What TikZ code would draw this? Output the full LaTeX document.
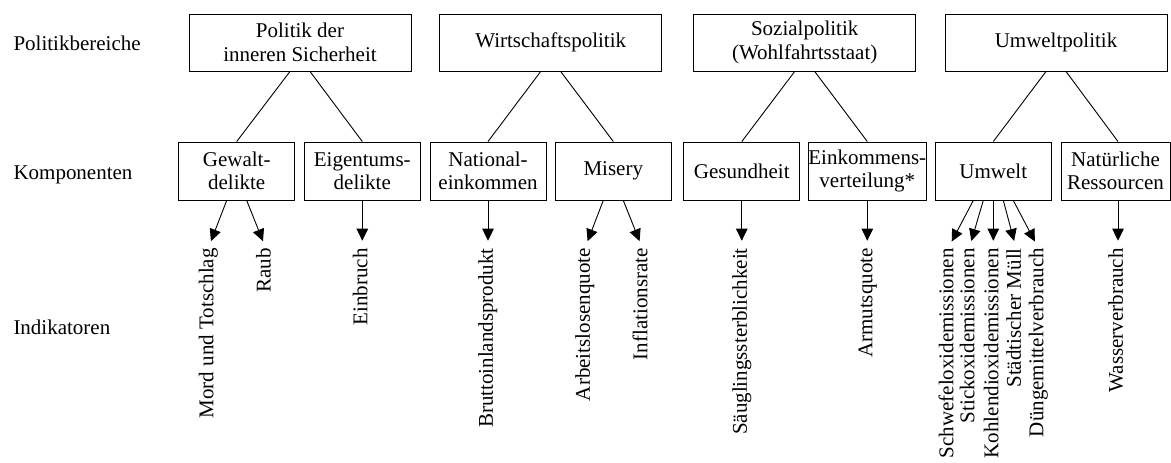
\documentclass[tikz,border=0pt]{standalone}
\usepackage{fontspec}
\setmainfont{Liberation Serif}
\usetikzlibrary{arrows.meta}
\begin{document}
\begin{tikzpicture}[x=1pt,y=1pt,
  every node/.style={font=\fontsize{21}{23.5}\selectfont},
  topbox/.style={draw,line width=0.9pt,minimum width=222pt,minimum height=57pt,align=center,inner sep=0pt},
  compbox/.style={draw,line width=0.9pt,minimum width=116pt,minimum height=58pt,align=center,inner sep=0pt},
  ind/.style={rotate=90,anchor=east,inner sep=0pt,text height=14.5pt,text depth=4.6pt},
  rowlabel/.style={anchor=base west,inner sep=0pt},
  link/.style={line width=0.9pt},
  arr/.style={line width=0.9pt,-{Triangle[length=12pt,width=11.5pt]},shorten >=7.3pt}
]
\useasboundingbox (0,0) rectangle (1171,-463);

% row labels
\node[rowlabel] (rl1) at (13.3,-50) {Politikbereiche};
\node[rowlabel] (rl2) at (13.3,-179.3) {Komponenten};
\node[rowlabel] (rl3) at (13.3,-334.3) {Indikatoren};

% top boxes
\node[topbox] (t1) at (300,-42.5) {Politik der\\inneren Sicherheit};
\node[topbox] (t2) at (550.7,-42.5) {Wirtschaftspolitik};
\node[topbox] (t3) at (804.7,-42.5) {Sozialpolitik\\(Wohlfahrtsstaat)};
\node[topbox] (t4) at (1056,-42.5) {Umweltpolitik};

% component boxes
\node[compbox] (c1) at (236.7,-171) {Gewalt-\\delikte};
\node[compbox] (c2) at (362.3,-171) {Eigentums-\\delikte};
\node[compbox] (c3) at (488,-171) {National-\\einkommen};
\node[compbox] (c4) at (613.3,-171) {Misery};
\node[compbox] (c5) at (741.8,-171) {Gesundheit};
\node[compbox] (c6) at (867.3,-171) {Einkommens-\\verteilung*};
\node[compbox] (c7) at (993.3,-171) {Umwelt};
\node[compbox,minimum width=109pt] (c8) at (1115.5,-171) {Natürliche\\Ressourcen};

% top-to-component links
\draw[link] ([xshift=-10pt]t1.south) -- (c1.north);
\draw[link] ([xshift=10pt]t1.south) -- (c2.north);
\draw[link] ([xshift=-10pt]t2.south) -- (c3.north);
\draw[link] ([xshift=10pt]t2.south) -- (c4.north);
\draw[link] ([xshift=-10pt]t3.south) -- (c5.north);
\draw[link] ([xshift=10pt]t3.south) -- (c6.north);
\draw[link] ([xshift=-10pt]t4.south) -- (c7.north);
\draw[link] ([xshift=10pt]t4.south) -- ([xshift=2.5pt]c8.north);

% indicators
\node[ind] (i1) at (208.3,-248) {Mord und Totschlag};
\node[ind] (i2) at (265.7,-248) {Raub};
\node[ind] (i3) at (362.3,-248) {Einbruch};
\node[ind] (i4) at (488,-248) {Bruttoinlandsprodukt};
\node[ind] (i5) at (585,-248) {Arbeitslosenquote};
\node[ind] (i6) at (642.3,-248) {Inflationsrate};
\node[ind] (i7) at (741.8,-248) {Säuglingssterblichkeit};
\node[ind] (i8) at (867.3,-248) {Armutsquote};
\node[ind] (i9) at (948.3,-248) {Schwefeloxidemissionen};
\node[ind] (i10) at (969.3,-248) {Stickoxidemissionen};
\node[ind] (i11) at (993.3,-248) {Kohlendioxidemissionen};
\node[ind] (i12) at (1016,-248) {Städtischer Müll};
\node[ind] (i13) at (1038.3,-248) {Düngemittelverbrauch};
\node[ind] (i14) at (1118,-248) {Wasserverbrauch};

% arrows
\draw[arr] ([xshift=-10pt]c1.south) -- (i1.east);
\draw[arr] ([xshift=10pt]c1.south) -- (i2.east);
\draw[arr] (c2.south) -- (i3.east);
\draw[arr] (c3.south) -- (i4.east);
\draw[arr] ([xshift=-10pt]c4.south) -- (i5.east);
\draw[arr] ([xshift=10pt]c4.south) -- (i6.east);
\draw[arr] (c5.south) -- (i7.east);
\draw[arr] (c6.south) -- (i8.east);
\draw[arr] ([xshift=-20pt]c7.south) -- (i9.east);
\draw[arr] ([xshift=-10pt]c7.south) -- (i10.east);
\draw[arr] (c7.south) -- (i11.east);
\draw[arr] ([xshift=10pt]c7.south) -- (i12.east);
\draw[arr] ([xshift=20pt]c7.south) -- (i13.east);
\draw[arr] ([xshift=2.5pt]c8.south) -- (i14.east);
\end{tikzpicture}
\end{document}
